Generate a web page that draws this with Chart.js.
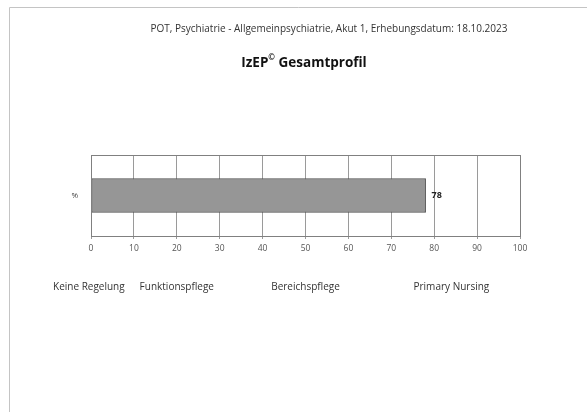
<!DOCTYPE html>
<html>
<head>
<meta charset="utf-8">
<script src="https://cdn.jsdelivr.net/npm/chart.js@4"></script>
<style>
  html, body { margin: 0; padding: 0; background: #fff; }
  #wrap { position: relative; width: 587px; height: 412px; }
</style>
</head>
<body>
<div id="wrap"><canvas id="myChart"></canvas></div>
<script>
// chart data
const categories = ['%'];
const values = [78];
const xTicks = [0, 10, 20, 30, 40, 50, 60, 70, 80, 90, 100];
const stageLabels = ['Keine Regelung', 'Funktionspflege', 'Bereichspflege', 'Primary Nursing'];
const stageValues = [-0.5, 20, 50, 84];
const subtitleText = 'POT, Psychiatrie - Allgemeinpsychiatrie, Akut 1, Erhebungsdatum: 18.10.2023';
const titleMain = 'IzEP';
const titleSup = '©';
const titleRest = ' Gesamtprofil';

const FONT = '"Open Sans", "Liberation Sans", sans-serif';

// draws page frame, titles, value label, stage names and the plot box
const decorations = {
  id: 'decorations',
  beforeDraw(chart) {
    const c = chart.ctx;
    c.save();
    c.fillStyle = '#fff';
    c.fillRect(0, 0, chart.width, chart.height);
    c.strokeStyle = '#c4c4c4';
    c.lineWidth = 1;
    c.beginPath();
    c.moveTo(9.5, 412);
    c.lineTo(9.5, 7.5);
    c.lineTo(587, 7.5);
    c.stroke();
    c.restore();
  },
  afterDraw(chart) {
    const c = chart.ctx;
    const area = chart.chartArea;
    const xs = chart.scales.x;
    c.save();

    // plot box
    c.strokeStyle = '#808080';
    c.lineWidth = 1;
    c.strokeRect(Math.round(area.left) + 0.5, Math.round(area.top) + 0.5,
      Math.round(area.right - area.left), Math.round(area.bottom - area.top));

    // subtitle
    c.fillStyle = '#333';
    c.font = '10px ' + FONT;
    c.textAlign = 'center';
    c.textBaseline = 'middle';
    c.fillText(subtitleText, 329, 29);

    // main title with superscript
    c.font = 'bold 13.5px ' + FONT;
    c.textAlign = 'left';
    c.fillStyle = '#111';
    const w1 = c.measureText(titleMain).width;
    const w3 = c.measureText(titleRest).width;
    c.font = 'bold 8px ' + FONT;
    const w2 = c.measureText(titleSup).width;
    let tx = 304 - (w1 + w2 + w3) / 2;
    c.font = 'bold 13.5px ' + FONT;
    c.fillText(titleMain, tx, 63);
    c.font = 'bold 8px ' + FONT;
    c.fillText(titleSup, tx + w1, 58);
    c.font = 'bold 13.5px ' + FONT;
    c.fillText(titleRest, tx + w1 + w2, 63);

    // value label
    const meta = chart.getDatasetMeta(0);
    meta.data.forEach((bar, i) => {
      c.font = 'bold 9px ' + FONT;
      c.fillStyle = '#222';
      c.textAlign = 'left';
      c.fillText(String(values[i]), bar.x + 6, bar.y);
    });

    // stage names under the axis
    c.font = '10px ' + FONT;
    c.fillStyle = '#333';
    c.textAlign = 'center';
    stageLabels.forEach((s, i) => {
      c.fillText(s, xs.getPixelForValue(stageValues[i]), 287);
    });
    c.restore();
  }
};

const config = {
  type: 'bar',
  data: {
    labels: categories,
    datasets: [{
      data: values,
      backgroundColor: '#969696',
      borderColor: '#505050',
      borderWidth: 1,
      borderSkipped: false,
      barThickness: 34
    }]
  },
  options: {
    indexAxis: 'y',
    responsive: true,
    maintainAspectRatio: false,
    animation: false,
    layout: { padding: { left: 61, right: 67, top: 155, bottom: 156 } },
    plugins: {
      legend: { display: false },
      title: { display: false },
      tooltip: { enabled: false }
    },
    scales: {
      x: {
        min: 0,
        max: 100,
        afterFit(s) { s.height = 20; },
        afterBuildTicks(s) { s.ticks = xTicks.map(v => ({ value: v })); },
        grid: { color: '#9a9a9a', tickLength: 3, drawTicks: true },
        border: { color: '#808080' },
        ticks: { color: '#555', font: { family: FONT, size: 8.5 }, padding: 4 }
      },
      y: {
        afterFit(s) { s.width = 30; },
        grid: { display: false },
        border: { color: '#808080' },
        ticks: { color: '#444', font: { family: FONT, size: 8 }, padding: 5 }
      }
    }
  },
  plugins: [decorations]
};

let ctx = document.getElementById('myChart');
let myChart = new Chart(ctx, config);
</script>
</body>
</html>
